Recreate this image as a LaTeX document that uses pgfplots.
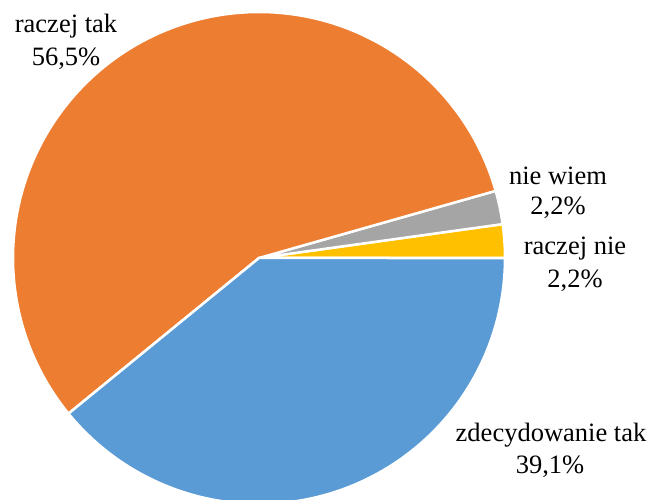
\documentclass[border=0pt]{standalone}
\usepackage{pgfplots}
\pgfplotsset{compat=1.18}
\usepgfplotslibrary{polar}
\usepackage{fontspec}
\newfontfamily\lserif{LiberationSerif-Regular.ttf}
\definecolor{cOrange}{HTML}{ED7D31}
\definecolor{cBlue}{HTML}{5B9BD5}
\definecolor{cGray}{HTML}{A5A5A5}
\definecolor{cYellow}{HTML}{FFC000}
% shares in percent, counter-clockwise from 3 o'clock
\def\vNie{2.2}   % raczej nie
\def\vWiem{2.2}  % nie wiem
\def\vTak{56.5}  % raczej tak
\def\vZdec{39.1} % zdecydowanie tak
\pgfmathsetmacro\aA{0}
\pgfmathsetmacro\aB{\aA+3.6*\vNie}
\pgfmathsetmacro\aC{\aB+3.6*\vWiem}
\pgfmathsetmacro\aD{\aC+3.6*\vTak}
\pgfmathsetmacro\aE{\aD+3.6*\vZdec}
\begin{document}
\begin{tikzpicture}
\useasboundingbox (0,0) rectangle (653pt,500pt);
\begin{polaraxis}[at={(259pt,242pt)}, anchor=center, hide axis, clip=false,
  scale only axis, width=492pt, height=492pt, ymin=0, ymax=1]
\addplot[fill=cYellow, draw=white, line width=2.5pt, domain=\aA:\aB, samples=20] {1} -- (axis cs:0,0) -- cycle;
\addplot[fill=cGray, draw=white, line width=2.5pt, domain=\aB:\aC, samples=20] {1} -- (axis cs:0,0) -- cycle;
\addplot[fill=cOrange, draw=white, line width=2.5pt, domain=\aC:\aD, samples=200] {1} -- (axis cs:0,0) -- cycle;
\addplot[fill=cBlue, draw=white, line width=2.5pt, domain=\aD:\aE, samples=150] {1} -- (axis cs:0,0) -- cycle;
\end{polaraxis}
\begin{scope}[every node/.style={anchor=base, inner sep=0pt, font=\lserif\fontsize{26.5}{32}\selectfont}]
\node at (66pt,467pt) {raczej tak};
\node at (66pt,434pt) {56,5\%};
\node at (558pt,315pt) {nie wiem};
\node at (558pt,285pt) {2,2\%};
\node at (575pt,245pt) {raczej nie};
\node at (575pt,212pt) {2,2\%};
\node at (551pt,58pt) {zdecydowanie tak};
\node at (550pt,26pt) {39,1\%};
\end{scope}
\end{tikzpicture}
\end{document}
